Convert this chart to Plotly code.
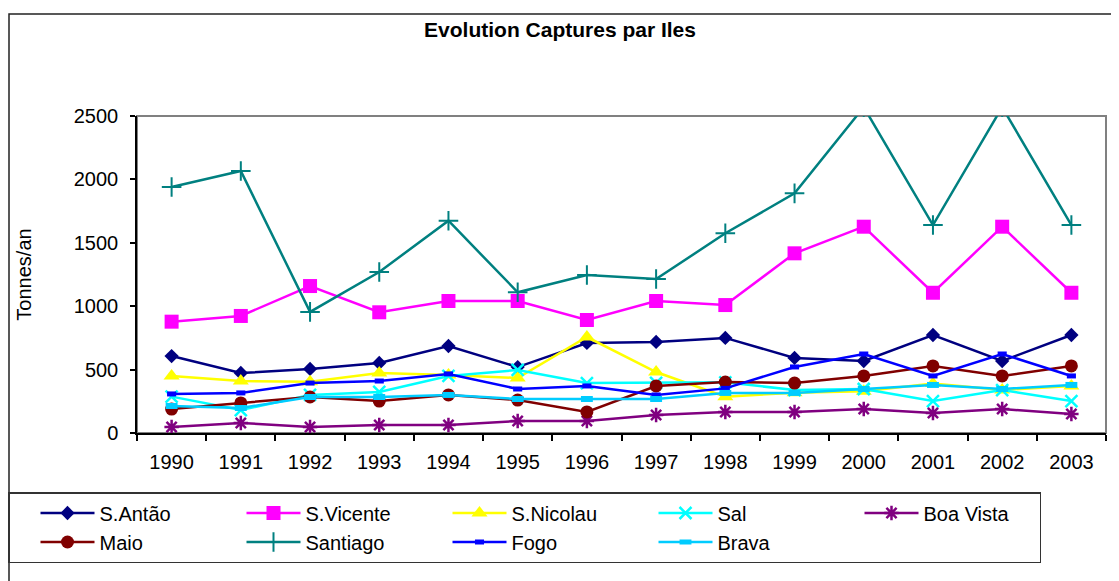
import plotly.graph_objects as go

years = [str(y) for y in range(1990, 2004)]

s_antao   = [607, 473, 505, 552, 686, 520, 710, 718, 750, 592, 568, 773, 568, 773]
s_vicente = [878, 923, 1159, 952, 1041, 1041, 891, 1041, 1009, 1417, 1627, 1106, 1627, 1106]
s_nicolau = [450, 410, 405, 473, 457, 434, 757, 481, 286, 318, 330, 390, 340, 370]
sal       = [287, 181, 300, 324, 450, 497, 394, 395, 400, 339, 347, 252, 339, 252]
boa_vista = [47, 79, 47, 63, 63, 95, 95, 142, 166, 166, 189, 158, 189, 150]
maio      = [189, 237, 284, 252, 300, 260, 166, 371, 402, 394, 450, 529, 450, 529]
santiago  = [1940, 2066, 955, 1270, 1674, 1110, 1246, 1214, 1575, 1890, 2570, 1640, 2570, 1640]
fogo      = [308, 316, 394, 410, 466, 347, 371, 300, 352, 521, 623, 450, 623, 450]
brava     = [213, 197, 284, 284, 300, 268, 268, 268, 316, 316, 347, 379, 347, 379]

series_names = ["S.Antão", "S.Vicente", "S.Nicolau", "Sal", "Boa Vista",
                "Maio", "Santiago", "Fogo", "Brava"]
series_values = [s_antao, s_vicente, s_nicolau, sal, boa_vista,
                 maio, santiago, fogo, brava]

styles = {
    "S.Antão":   dict(color="#000080", symbol="diamond", size=11, lw=0),
    "S.Vicente": dict(color="#FF00FF", symbol="square", size=14, lw=0),
    "S.Nicolau": dict(color="#FFFF00", symbol="triangle-up", size=14, lw=0),
    "Sal":       dict(color="#00FFFF", symbol="x-thin", size=12, lw=2.5),
    "Boa Vista": dict(color="#800080", symbol="asterisk", size=12, lw=2.5),
    "Maio":      dict(color="#800000", symbol="circle", size=13, lw=0),
    "Santiago":  dict(color="#008080", symbol="cross-thin", size=14, lw=2),
    "Fogo":      dict(color="#0000FF", symbol="line-ew", size=6.5, lw=5),
    "Brava":     dict(color="#00CCFF", symbol="line-ew", size=8.5, lw=6),
}

FONT = "Arial, Liberation Sans, sans-serif"

fig = go.Figure()
for name, vals in zip(series_names, series_values):
    st = styles[name]
    fig.add_trace(go.Scatter(
        x=years, y=vals, name=name, mode="lines+markers",
        line=dict(color=st["color"], width=2.5),
        marker=dict(symbol=st["symbol"], size=st["size"], color=st["color"],
                    line=dict(color=st["color"], width=st["lw"])),
        cliponaxis=True,
    ))

# page has an 8px body margin: figure coordinates = page coordinates - 8
O = 8
W, H = 1119 - O, 581 - O
L, R, T, B = 137 - O, 1106 - O, 116 - O, 433 - O
pw, ph = R - L, B - T


def px_x(p):
    return (p - O - L) / pw


def px_y(p):
    return (B - (p - O)) / ph


fig.update_layout(
    width=W, height=H,
    margin=dict(l=L, r=W - R, t=T, b=H - B, autoexpand=False),
    paper_bgcolor="white", plot_bgcolor="white",
    font=dict(family=FONT, size=20, color="black"),
    title=dict(text="<b>Evolution Captures par Iles</b>",
               font=dict(family=FONT, size=21, color="black"),
               x=(560 - O) / W, xref="container", xanchor="center",
               y=1 - (30 - O) / H, yref="container", yanchor="middle"),
    showlegend=True,
    legend=dict(
        orientation="h",
        x=px_x(8), xanchor="left", xref="paper",
        y=px_y(492), yanchor="top", yref="paper",
        entrywidth=111, entrywidthmode="pixels",
        itemwidth=54, indentation=26,
        bordercolor="#333333", borderwidth=1.5, bgcolor="white",
        font=dict(family=FONT, size=20, color="black"),
        traceorder="normal",
    ),
    xaxis=dict(
        type="category", range=[-0.5, 13.5], tickson="boundaries",
        ticks="outside", ticklen=6, tickwidth=1.5, tickcolor="black",
        showline=True, linecolor="black", linewidth=1.5,
        showgrid=False, zeroline=False, ticklabelstandoff=10,
        tickfont=dict(family=FONT, size=20, color="black"),
    ),
    yaxis=dict(
        range=[0, 2500], tickmode="array",
        tickvals=[0, 500, 1000, 1500, 2000, 2500],
        ticks="outside", ticklen=5, tickwidth=1.5, tickcolor="black",
        showline=True, linecolor="black", linewidth=1.5,
        showgrid=False, zeroline=False, ticklabelstandoff=8,
        tickfont=dict(family=FONT, size=20, color="black"),
        title=dict(text="Tonnes/an", standoff=37,
                   font=dict(family=FONT, size=20, color="black")),
        automargin=False,
    ),
    shapes=[
        dict(type="rect", xref="paper", yref="paper", x0=0, x1=1, y0=0, y1=1,
             line=dict(color="#808080", width=2), layer="below"),
        dict(type="rect", xref="paper", yref="paper",
             x0=px_x(9), x1=px_x(1160), y0=px_y(660), y1=px_y(14),
             line=dict(color="#222222", width=1.5), layer="below"),
    ],
)

fig.write_html("out.html")
